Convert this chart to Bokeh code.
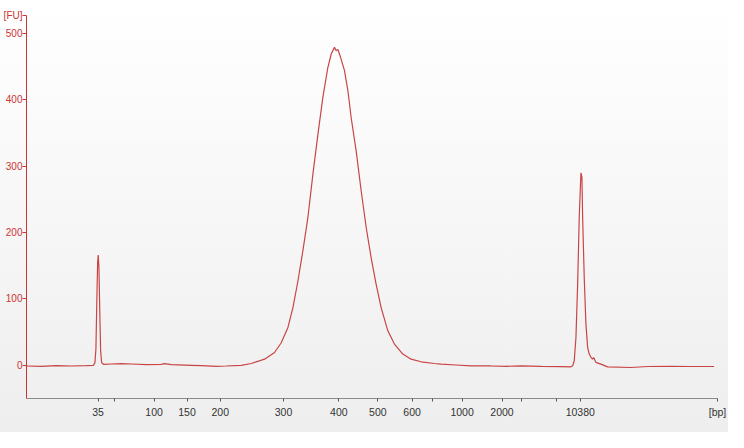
from bokeh.plotting import figure
from bokeh.models import FixedTicker, Range1d
from bokeh.embed import file_html
from bokeh.resources import INLINE

# Migration time (s) and fluorescence (FU)
time_s = [40.0, 41.5, 43.0, 44.5, 46.0, 46.7, 46.85, 46.95, 47.03, 47.12, 47.18, 47.25,
          47.33, 47.42, 47.52, 47.7, 48.5, 49.5, 50.5, 52.0, 53.5, 53.8, 54.5, 56.5,
          57.5, 59.0, 60.0, 61.5,
          62.5, 63.83, 64.83, 65.5, 66.17, 66.67, 67.17, 67.67, 68.17, 68.67, 69.17,
          69.67, 70.17, 70.5, 70.83, 71.0, 71.17, 71.33, 71.5, 71.83, 72.17, 72.5,
          73.0, 73.5, 74.0, 74.5, 75.0, 75.5, 76.17, 76.83, 77.67, 78.5, 79.5, 80.83,
          81.5, 83.0, 84.5, 86.5, 88.0, 89.5, 91.5, 93.5, 94.5,
          94.67, 94.83, 95.0, 95.17, 95.33, 95.5, 95.6, 95.67, 95.83, 96.0, 96.17,
          96.33, 96.5, 96.67, 96.77, 97.0, 97.5, 98.17, 100.5, 102.17, 104.5, 106.5,
          108.83]
fu = [-1, -1.5, -0.5, -1, -0.5, 0, 4, 25, 90, 155, 166, 148,
      85, 22, 4, 1.5, 2, 2.5, 2, 1, 1.5, 2.5, 1, 0,
      -0.5, -1.5, -1, 0,
      2.7, 9.3, 19.3, 34, 57, 87, 127, 173, 223, 288, 348,
      404, 449, 469, 479, 474, 476, 469, 461, 444, 414, 373,
      323, 263, 208, 162, 122, 87, 52, 32, 17, 9.3, 5.3, 2.7,
      1.8, 0.5, -0.8, -1, -1.5, -0.8, -1.5, -2, -2.3,
      -0.8, 6.8, 42, 122, 223, 290, 283, 223, 132, 62, 27,
      17, 12, 9.3, 11.8, 4.5, 1.8, -2.3, -3.3, -1.8, -1.5, -1.8,
      -1.8]

X_START, X_END = 40.0, 109.17
Y_START, Y_END = -50, 527

# Ladder ticks (time position -> bp label); the last one carries the unit
tick_pos = [47.17, 48.8, 52.77, 56.07, 59.4, 65.73, 71.27, 75.17, 78.6, 80.67,
            83.6, 87.6, 89.6, 93.1, 95.43, X_END]
tick_lbl = ["35", "", "100", "150", "200", "300", "400", "500", "600", "",
            "1000", "2000", "", "", "10380", "[bp]"]
y_ticks = [0, 100, 200, 300, 400, 500, Y_END]
y_lbl = ["0", "100", "200", "300", "400", "500", "[FU]"]

RED = "#cc3333"
FONT = "Liberation Sans"

p = figure(width=728, height=432, output_backend="svg", toolbar_location=None,
           x_range=Range1d(X_START, X_END), y_range=Range1d(Y_START, Y_END),
           min_border_left=25, min_border_right=11, min_border_top=15,
           min_border_bottom=34)
p.styles = {"background": "linear-gradient(to bottom, #ffffff 0%, #f7f7f7 50%, #eeeeee 100%)"}
p.border_fill_alpha = 0
p.background_fill_alpha = 0
p.outline_line_color = None
p.xgrid.visible = False
p.ygrid.visible = False

p.line(time_s, fu, line_color="#c94444", line_width=1.2)

xa = p.xaxis[0]
xa.ticker = FixedTicker(ticks=tick_pos)
xa.major_label_overrides = {t: l for t, l in zip(tick_pos, tick_lbl)}
xa.minor_tick_line_color = None
xa.axis_line_color = "#8a8a8a"
xa.major_tick_line_color = "#555555"
xa.major_tick_in = 0
xa.major_tick_out = 3
xa.major_label_standoff = 4
xa.major_label_text_color = "#333333"
xa.major_label_text_font = FONT
xa.major_label_text_font_size = "10.5px"

ya = p.yaxis[0]
ya.ticker = FixedTicker(ticks=y_ticks)
ya.major_label_overrides = {t: l for t, l in zip(y_ticks, y_lbl)}
ya.minor_tick_line_color = None
ya.axis_line_color = RED
ya.major_tick_line_color = RED
ya.major_tick_in = 0
ya.major_tick_out = 4
ya.major_label_standoff = 0
ya.major_label_text_color = RED
ya.major_label_text_font = FONT
ya.major_label_text_font_size = "10px"

open("out.html", "w").write(file_html(p, INLINE))
